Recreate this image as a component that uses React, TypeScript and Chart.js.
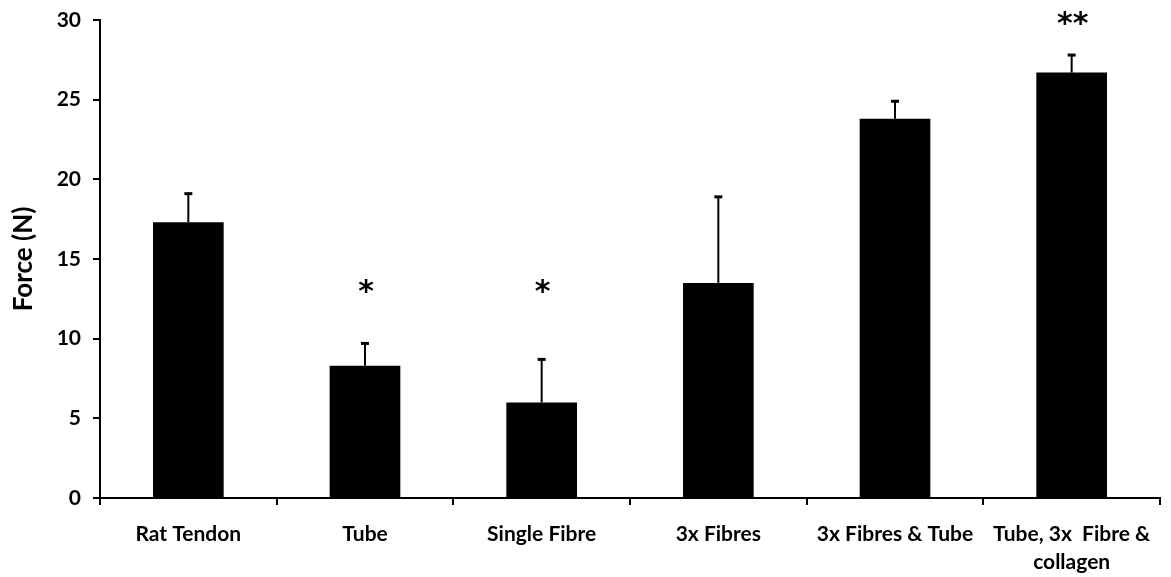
import React, { useEffect, useRef } from "react";
import { Chart, registerables } from "chart.js";

Chart.register(...registerables);

const categories: string[][] = [
  ["Rat Tendon"],
  ["Tube"],
  ["Single Fibre"],
  ["3x Fibres"],
  ["3x Fibres & Tube"],
  ["Tube, 3x  Fibre &", "collagen"],
];
const forceMeans = [17.3, 8.3, 6.0, 13.5, 23.8, 26.7];
const errorTops = [19.1, 9.7, 8.7, 18.9, 24.9, 27.8];
const sigMarks = ["", "*", "*", "", "", "**"];
const sigLevels = [0, 13.3, 13.3, 0, 0, 30.1];
const yTicks = [0, 5, 10, 15, 20, 25, 30];

const FONT = "Lato, 'Open Sans', sans-serif";

const errorBarPlugin = {
  id: "errorBars",
  afterDatasetsDraw(chart: any) {
    const { ctx, scales } = chart;
    const meta = chart.getDatasetMeta(0);
    ctx.save();
    ctx.strokeStyle = "#000";
    ctx.fillStyle = "#000";
    meta.data.forEach((bar: any, i: number) => {
      const x = bar.x;
      const yTop = scales.y.getPixelForValue(errorTops[i]);
      const yBar = scales.y.getPixelForValue(forceMeans[i]);
      ctx.lineWidth = 2;
      ctx.beginPath();
      ctx.moveTo(x, yBar);
      ctx.lineTo(x, yTop);
      ctx.stroke();
      ctx.lineWidth = 3;
      ctx.beginPath();
      ctx.moveTo(x - 4, yTop);
      ctx.lineTo(x + 4, yTop);
      ctx.stroke();
      if (sigMarks[i]) {
        ctx.font = `bold 30px 'DejaVu Sans', sans-serif`;
        ctx.textAlign = "center";
        ctx.textBaseline = "alphabetic";
        const m = ctx.measureText(sigMarks[i]);
        const ys = scales.y.getPixelForValue(sigLevels[i]);
        const base = ys + (m.actualBoundingBoxAscent - m.actualBoundingBoxDescent) / 2;
        ctx.fillText(sigMarks[i], x + 1, base);
      }
    });
    ctx.restore();
  },
};

export default function App() {
  const ref = useRef<HTMLCanvasElement>(null);
  useEffect(() => {
    if (!ref.current) return;
    const chart = new Chart(ref.current, {
      type: "bar",
      data: {
        labels: categories,
        datasets: [
          {
            data: forceMeans,
            backgroundColor: "#000",
            borderWidth: 0,
            categoryPercentage: 1,
            barPercentage: 0.4,
          },
        ],
      },
      options: {
        animation: false,
        responsive: false,
        layout: { padding: { top: 20, right: 11, left: 0, bottom: 0 } },
        plugins: { legend: { display: false }, tooltip: { enabled: false } },
        scales: {
          x: {
            offset: true,
            grid: {
              offset: true,
              drawOnChartArea: false,
              drawTicks: true,
              tickLength: 7,
              color: "#000",
              lineWidth: 2,
            },
            border: { display: true, color: "#000", width: 2 },
            ticks: {
              color: "#000",
              font: { family: FONT, size: 21, weight: "bold", lineHeight: 1.33 },
              padding: 15,
              maxRotation: 0,
              autoSkip: false,
            },
            afterFit: (s: any) => {
              s.height = 79;
              s.paddingLeft = 0;
              s.paddingRight = 0;
            },
          },
          y: {
            min: 0,
            max: 30,
            afterBuildTicks: (s: any) => {
              s.ticks = yTicks.map((v) => ({ value: v }));
            },
            grid: {
              drawOnChartArea: false,
              drawTicks: true,
              tickLength: 7,
              color: "#000",
              lineWidth: 2,
            },
            border: { display: true, color: "#000", width: 2 },
            ticks: {
              color: "#000",
              font: { family: FONT, size: 21, weight: "bold" },
              padding: 12,
            },
            title: {
              display: true,
              text: "Force (N)",
              color: "#000",
              font: { family: FONT, size: 26, weight: "bold", lineHeight: 1.2 },
              padding: { top: 8, bottom: 0 },
            },
            afterFit: (s: any) => {
              s.width = 100;
              s.paddingTop = 0;
              s.paddingBottom = 0;
            },
          },
        },
      },
      plugins: [errorBarPlugin],
    });
    return () => chart.destroy();
  }, []);
  return (
    <div style={{ position: "absolute", left: 0, top: 0, width: 1171, height: 577, background: "#fff" }}>
      <canvas ref={ref} width={1171} height={577} />
    </div>
  );
}
